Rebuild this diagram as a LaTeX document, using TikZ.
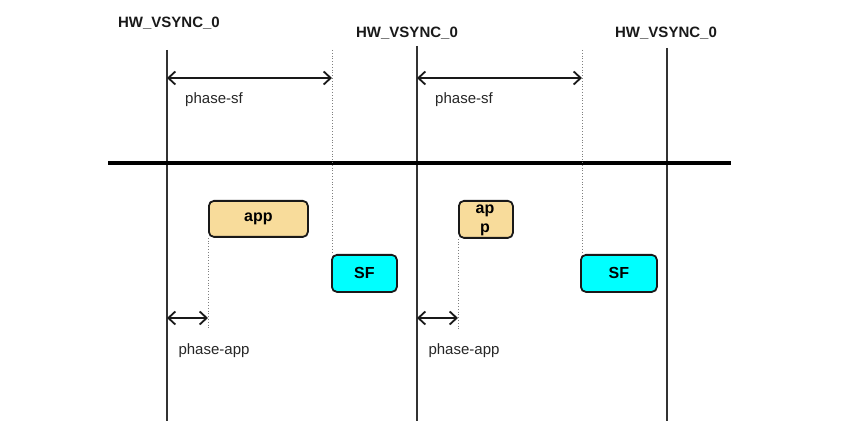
\documentclass[tikz,border=0pt]{standalone}
\usepackage{fontspec}
\setmainfont{Liberation Sans}
\usetikzlibrary{arrows.meta}
\definecolor{appfill}{HTML}{F8DC9B}
\definecolor{sffill}{HTML}{00FFFF}
\definecolor{vline}{HTML}{333333}
\tikzset{
  vsync/.style={font=\bfseries\fontsize{15}{17}\selectfont, text=black!90},
  vbar/.style={draw=vline, line width=1.2pt},
  dotline/.style={draw=black!50, line width=0.8pt, dotted},
  phasearrow/.style={draw=black!90, line width=1.8pt, {Straight Barb[length=7pt,width=13pt]}-{Straight Barb[length=7pt,width=13pt]}},
  phaselbl/.style={font=\fontsize{15}{17}\selectfont, text=black!85},
  taskbox/.style={draw=black!90, line width=1.8pt, rounded corners=5pt, inner sep=0pt, font=\bfseries\fontsize{16}{18}\selectfont},
  appbox/.style={taskbox, fill=appfill},
  sfbox/.style={taskbox, fill=sffill},
}
\begin{document}
\begin{tikzpicture}[x=1pt,y=-1pt]
\useasboundingbox (0,0) rectangle (867,430);
% vsync labels
\node[vsync] (v1) at (169,23) {HW\_VSYNC\_0};
\node[vsync] (v2) at (407,33) {HW\_VSYNC\_0};
\node[vsync] (v3) at (666,33) {HW\_VSYNC\_0};
% vertical lines
\coordinate (l1t) at (167,50); \coordinate (l1b) at (167,421);
\coordinate (l2t) at (417,46); \coordinate (l2b) at (417,421);
\coordinate (l3t) at (667,48); \coordinate (l3b) at (667,421);
\draw[vbar] (l1t) -- (l1b);
\draw[vbar] (l2t) -- (l2b);
\draw[vbar] (l3t) -- (l3b);
% thick separator
\coordinate (sepL) at (108,163); \coordinate (sepR) at (731,163);
\draw[line width=4pt] (sepL) -- (sepR);
% boxes
\node[appbox, minimum width=99pt, minimum height=36pt, anchor=north west] (app1) at (208,200) {app};
\node[appbox, minimum width=54pt, minimum height=37pt, anchor=north west] (app2) at (458,200) {};
\node[font=\bfseries\fontsize{16}{19}\selectfont, align=center, inner sep=0pt, anchor=north] (app2t) at (485,205) {ap\\p};
\node[sfbox, minimum width=65pt, minimum height=37pt, anchor=north west] (sf1) at (331,254) {SF};
\node[sfbox, minimum width=76pt, minimum height=37pt, anchor=north west] (sf2) at (580,254) {SF};
% dotted guides
\coordinate (d1t) at (332,50); \coordinate (d2t) at (582,50);
\draw[dotline] (d1t) -- (d1t |- sf1.north);
\draw[dotline] (d2t) -- (d2t |- sf2.north);
\coordinate (a1b) at (208,330); \coordinate (a2b) at (458,330);
\draw[dotline] (app1.south west) -- (a1b);
\draw[dotline] (app2.south west) -- (a2b);
% phase-sf arrows
\coordinate (ps1a) at (167,78); \coordinate (ps1b) at (332,78);
\coordinate (ps2a) at (417,78); \coordinate (ps2b) at (582,78);
\draw[phasearrow] (ps1a) -- (ps1b);
\draw[phasearrow] (ps2a) -- (ps2b);
\node[phaselbl] (psl1) at (214,100) {phase-sf};
\node[phaselbl] (psl2) at (464,100) {phase-sf};
% phase-app arrows
\coordinate (pa1a) at (167,318); \coordinate (pa1b) at (208,318);
\coordinate (pa2a) at (417,318); \coordinate (pa2b) at (458,318);
\draw[phasearrow] (pa1a) -- (pa1b);
\draw[phasearrow] (pa2a) -- (pa2b);
\node[phaselbl] (pal1) at (214,351) {phase-app};
\node[phaselbl] (pal2) at (464,351) {phase-app};
\end{tikzpicture}
\end{document}
